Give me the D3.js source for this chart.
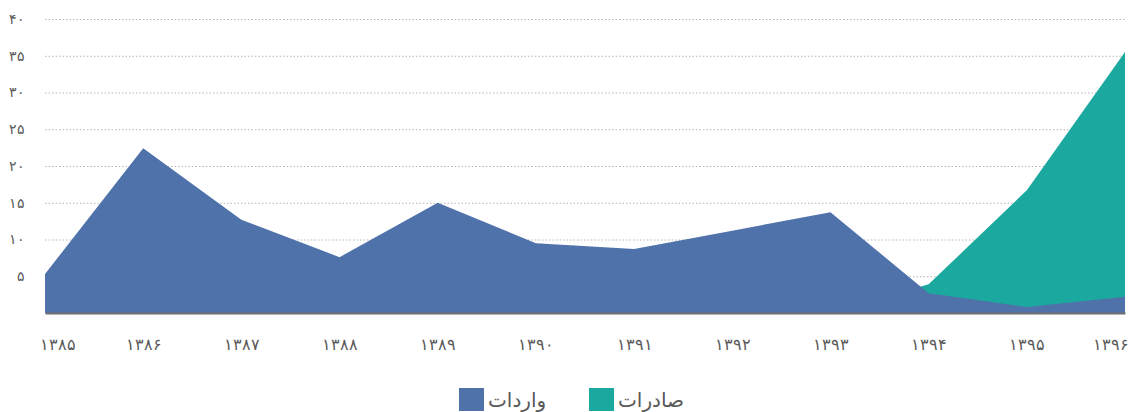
<!DOCTYPE html>
<html>
<head>
<meta charset="utf-8">
<script src="https://cdn.jsdelivr.net/npm/d3@7"></script>
<style>
    body { margin: 0; background: #fff; }
    svg { font-family: 'DejaVu Sans', sans-serif; display: block; }
    .grid line { stroke: #b5b5b5; stroke-dasharray: 1.5, 2; }
    .tick text { fill: #595959; }
</style>
</head>
<body>
<main></main>
<script>
// data
var years = ['۱۳۸۵', '۱۳۸۶', '۱۳۸۷', '۱۳۸۸', '۱۳۸۹', '۱۳۹۰', '۱۳۹۱', '۱۳۹۲', '۱۳۹۳', '۱۳۹۴', '۱۳۹۵', '۱۳۹۶']
var imports = [5.3, 22.4, 12.7, 7.6, 15.0, 9.5, 8.7, 11.2, 13.7, 2.7, 0.8, 2.2]
var exports = [0, 0, 0, 0, 0, 0, 0, 0, 0, 3.9, 16.7, 35.5]
var yTicks = [5, 10, 15, 20, 25, 30, 35, 40]
var yTickLabels = ['۵', '۱۰', '۱۵', '۲۰', '۲۵', '۳۰', '۳۵', '۴۰']
var seriesNames = ['واردات', 'صادرات']
var colors = ['#4f72ab', '#1ba89e']

var W = 1129, H = 412
var margin = { top: 19, right: 4, bottom: 99, left: 45 },
    width = W - margin.left - margin.right,
    height = H - margin.top - margin.bottom

var svg = d3.select('main').append('svg')
    .attr('width', W)
    .attr('height', H)

var g = svg.append('g')
    .attr('transform', `translate(${margin.left}, ${margin.top})`)

// scales
var x = d3.scalePoint().domain(years).range([0, width])
var y = d3.scaleLinear().domain([0, 40]).range([height, 0])

// gridlines + y labels
var yAxis = g.append('g')
    .attr('class', 'grid')
    .call(d3.axisLeft(y)
        .tickValues(yTicks)
        .tickSize(-width)
        .tickPadding(20)
        .tickFormat((d, i) => yTickLabels[i]))
yAxis.select('.domain').remove()
yAxis.selectAll('text').attr('font-size', 14)

// areas, exports behind imports
var area = d3.area()
    .x((d, i) => x(years[i]))
    .y0(y(0))
    .y1(d => y(d))

g.append('path')
    .datum(exports)
    .attr('fill', colors[1])
    .attr('d', area)

g.append('path')
    .datum(imports)
    .attr('fill', colors[0])
    .attr('d', area)

// x-axis
var xAxis = g.append('g')
    .attr('transform', `translate(0, ${height})`)
    .call(d3.axisBottom(x).tickSize(0).tickPadding(26))
xAxis.select('.domain')
    .attr('stroke', '#6f6f6f')
    .attr('stroke-width', 2)
xAxis.selectAll('text')
    .attr('font-size', 16)
    .each(function () {
        // keep end labels inside the picture
        var t = d3.select(this)
        var p = d3.select(this.parentNode).attr('transform')
        var cx = +p.match(/translate\(([-\d.]+)/)[1] + margin.left
        var half = this.getComputedTextLength() / 2
        var shift = 0
        if (cx - half < 40) shift = 40 - (cx - half)
        if (cx + half > W) shift = W - (cx + half)
        t.attr('x', shift)
    })

// legend
var legend = svg.append('g')
    .attr('transform', 'translate(459, 388)')

var items = legend.selectAll('g')
    .data(seriesNames)
    .enter()
    .append('g')
    .attr('transform', (d, i) => `translate(${i * 130}, 0)`)

items.append('rect')
    .attr('width', 25)
    .attr('height', 23)
    .attr('fill', (d, i) => colors[i])

items.append('text')
    .attr('x', 29)
    .attr('y', 19)
    .attr('font-size', 20)
    .attr('fill', '#595959')
    .text(d => d)
</script>
</body>
</html>
